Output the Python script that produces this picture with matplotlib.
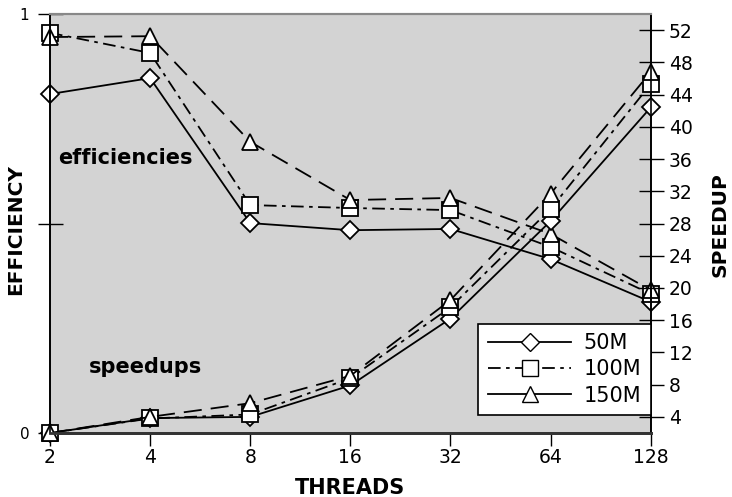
import matplotlib
matplotlib.use("Agg")
import matplotlib.pyplot as plt
from matplotlib.lines import Line2D

threads = [2, 4, 8, 16, 32, 64, 128]
series = ["50M", "100M", "150M"]

eff_50m = [0.809, 0.847, 0.501, 0.484, 0.487, 0.415, 0.313]
eff_100m = [0.955, 0.907, 0.544, 0.537, 0.532, 0.444, 0.332]
eff_150m = [0.945, 0.947, 0.695, 0.556, 0.561, 0.475, 0.341]

spd_50m = [2.0, 3.85, 4.0, 7.9, 16.2, 28.3, 42.4]
spd_100m = [2.0, 3.8, 4.3, 8.8, 17.6, 29.8, 45.3]
spd_150m = [2.0, 4.0, 5.7, 9.1, 18.5, 31.7, 46.8]

eff_ticks = [0, 0.5, 1]
eff_ticklabels = ["0", "", "1"]
spd_ticks = [4, 8, 12, 16, 20, 24, 28, 32, 36, 40, 44, 48, 52]

W, H = 732, 497
fig = plt.figure(figsize=(W / 100, H / 100), dpi=100)
AX_L, AX_W, AX_T, AX_H = 50, 600.7, 14, 419
ax = fig.add_axes([AX_L / W, 1 - (AX_T + AX_H) / H, AX_W / W, AX_H / H])
ax.set_facecolor("#d3d3d3")
ax2 = ax.twinx()

long_dash = (0, (10, 5))
dash_dot = (0, (7, 3, 2, 3))
styles = [
    dict(marker="D", markersize=9, linestyle="-"),
    dict(marker="s", markersize=11, linestyle=dash_dot),
    dict(marker="^", markersize=11.5, linestyle=long_dash),
]
common = dict(color="black", linewidth=1.3, markerfacecolor="white",
              markeredgecolor="black", markeredgewidth=1.3, clip_on=False)

for vals, st in zip([eff_50m, eff_100m, eff_150m], styles):
    ax.plot(threads, vals, **st, **common)
for vals, st in zip([spd_50m, spd_100m, spd_150m], styles):
    ax2.plot(threads, vals, **st, **common)

ax.set_xscale("log", base=2)
ax.set_xlim(2, 128)
ax.set_xticks(threads)
ax.set_xticklabels([str(t) for t in threads])
ax.minorticks_off()
ax.set_ylim(0, 1)
ax.set_yticks(eff_ticks)
ax.set_yticklabels(eff_ticklabels)
ax2.set_ylim(2, 54)
ax2.set_yticks(spd_ticks)

ax.tick_params(axis="x", direction="out", length=9, width=1, labelsize=13.5, pad=1.5)
ax.tick_params(axis="y", direction="inout", length=18, width=1, labelsize=11, pad=6)
ax2.tick_params(axis="y", direction="inout", length=18, width=1, labelsize=13.5, pad=4)

for a in (ax, ax2):
    a.spines["top"].set_color("#888888")
    a.spines["top"].set_linewidth(1.5)
    a.spines["bottom"].set_color("#333333")
    a.spines["bottom"].set_linewidth(2)
    a.spines["left"].set_linewidth(1.2)
    a.spines["right"].set_linewidth(1.2)

def ax_x(px):
    return (px - AX_L) / AX_W

def ax_y(py):
    return (AX_T + AX_H - py) / AX_H

ax.set_xlabel("THREADS", fontsize=15, fontweight="bold")
ax.xaxis.set_label_coords(0.5, ax_y(478))
ax.set_ylabel("EFFICIENCY", fontsize=14.5, fontweight="bold")
ax.yaxis.set_label_coords(ax_x(16), ax_y(230))
ax.yaxis.label.set_va("center")
ax2.set_ylabel("SPEEDUP", fontsize=14.5, fontweight="bold")
ax2.yaxis.set_label_coords(ax_x(720), ax_y(225))
ax2.yaxis.label.set_va("center")

ax.text(ax_x(58), ax_y(158), "efficiencies", transform=ax.transAxes,
        fontsize=15, fontweight="bold", va="center", ha="left")
ax.text(ax_x(89), ax_y(367), "speedups", transform=ax.transAxes,
        fontsize=15, fontweight="bold", va="center", ha="left")

handles = [
    Line2D([], [], color="black", lw=1.3, ls="-", marker="D", markersize=9,
           markerfacecolor="white", markeredgecolor="black"),
    Line2D([], [], color="black", lw=1.3, ls=dash_dot, marker="s", markersize=11,
           markerfacecolor="white", markeredgecolor="black"),
    Line2D([], [], color="black", lw=1.3, ls="-", marker="^", markersize=11.5,
           markerfacecolor="white", markeredgecolor="black"),
]
leg = ax2.legend(handles, series, loc="lower right", bbox_to_anchor=(1.0, ax_y(415)),
                 borderaxespad=0, fontsize=15, handlelength=4.0, frameon=True,
                 fancybox=False, framealpha=1, edgecolor="black",
                 labelspacing=0.3, borderpad=0.45, handletextpad=0.6)
leg.get_frame().set_linewidth(1.2)

fig.savefig("out.png", dpi=100)
